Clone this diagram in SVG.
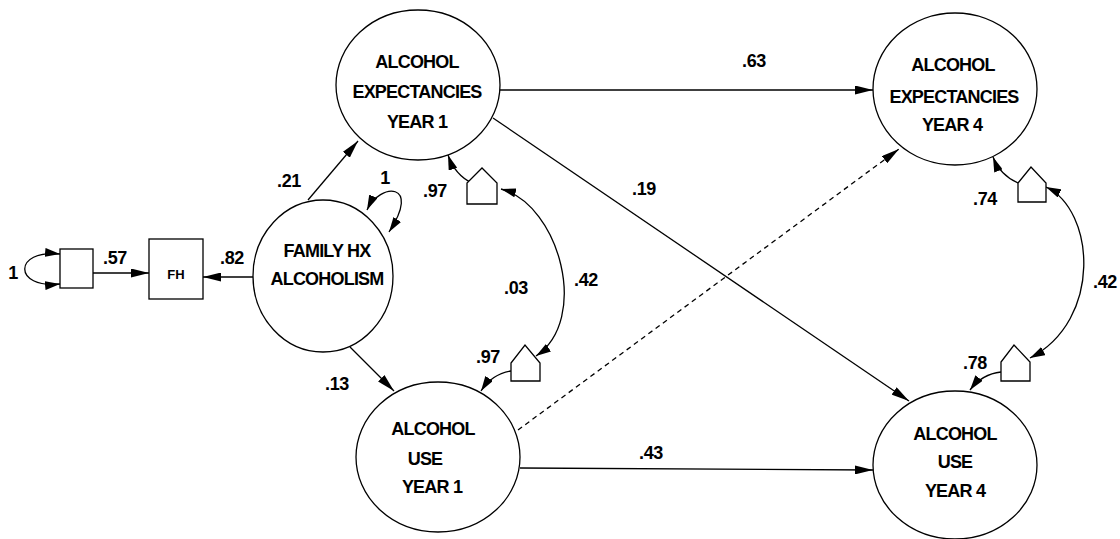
<svg xmlns="http://www.w3.org/2000/svg" width="1120" height="539" viewBox="0 0 1120 539">
<style>
.node{fill:#fff;stroke:#000;stroke-width:1.3}
.t{font-family:"Liberation Sans",Arial,sans-serif;font-weight:bold;font-size:18px;letter-spacing:-0.8px;text-anchor:middle;fill:#000}
.lab{font-family:"Liberation Sans",Arial,sans-serif;font-weight:bold;font-size:18px;letter-spacing:-0.3px;text-anchor:middle;fill:#000}
.e{fill:none;stroke:#000;stroke-width:1.3}
.a{marker-end:url(#ah)}
.c{marker-end:url(#ah2)}
.d{marker-start:url(#ah2);marker-end:url(#ah2)}
.dash{stroke-dasharray:5,4}
</style>
<defs>
<marker id="ah" viewBox="0 0 18 9" refX="18" refY="4.5" markerWidth="18" markerHeight="9" markerUnits="userSpaceOnUse" orient="auto"><path d="M0,0 L18,4.5 L0,9 z" fill="#000"/></marker>
<marker id="ah2" viewBox="0 0 15 9" refX="15" refY="4.5" markerWidth="15" markerHeight="9" markerUnits="userSpaceOnUse" orient="auto-start-reverse"><path d="M0,0 L15,4.5 L0,9 z" fill="#000"/></marker>
</defs>
<rect width="1120" height="539" fill="#fff"/>
<g id="connectors">
<path class="e d" d="M60,254 C13,249 13,289 60,284"/>
<line class="e a" x1="93" y1="273" x2="149" y2="273"/>
<line class="e a" x1="253" y1="277" x2="203" y2="277"/>
<path class="e d" d="M367,210 C380,182 422,182 389,232"/>
<line class="e a" x1="308" y1="200" x2="358" y2="141"/>
<line class="e a" x1="350" y1="347" x2="394" y2="391"/>
<line class="e a" x1="500" y1="90" x2="873" y2="90"/>
<line class="e a" x1="493" y1="118" x2="909" y2="401"/>
<line class="e dash a" x1="518" y1="430" x2="899" y2="149"/>
<line class="e a" x1="520" y1="468" x2="873" y2="470"/>
<path class="e c" d="M472,183 Q455,175 448,155"/>
<path class="e c" d="M511,371 Q492,374 481,391"/>
<path class="e c" d="M1018,183 Q1000,175 993,157"/>
<path class="e c" d="M1001,372 Q982,374 970,390"/>
<path class="e d" d="M501,189 C560,205 590,320 536,356"/>
<path class="e d" d="M1046,187 C1095,210 1103,320 1030,358"/>
</g>
<g id="err0"><rect class="node" x="60" y="249" width="33" height="39"/></g>
<g id="fh"><rect class="node" x="149" y="239" width="54" height="60"/><text class="t" x="176" y="279" style="font-size:13px;letter-spacing:0">FH</text></g>
<g id="famhx"><ellipse class="node" cx="323" cy="276" rx="70" ry="76"/><text class="t" x="327" y="257">FAMILY HX</text><text class="t" x="327" y="285">ALCOHOLISM</text></g>
<g id="ae1"><ellipse class="node" cx="418" cy="85" rx="82" ry="75"/><text class="t" x="417" y="68">ALCOHOL</text><text class="t" x="417" y="98">EXPECTANCIES</text><text class="t" x="417" y="128">YEAR 1</text></g>
<g id="au1"><ellipse class="node" cx="438" cy="457" rx="82" ry="75"/><text class="t" x="433" y="435">ALCOHOL</text><text class="t" x="425" y="465">USE</text><text class="t" x="432" y="493">YEAR 1</text></g>
<g id="ae4"><ellipse class="node" cx="955" cy="89" rx="82" ry="76"/><text class="t" x="953" y="71">ALCOHOL</text><text class="t" x="954" y="103">EXPECTANCIES</text><text class="t" x="952" y="131">YEAR 4</text></g>
<g id="au4"><ellipse class="node" cx="955" cy="465" rx="82" ry="74"/><text class="t" x="955" y="440">ALCOHOL</text><text class="t" x="955" y="468">USE</text><text class="t" x="955" y="497">YEAR 4</text></g>
<g id="d1"><path class="node" d="M467,204 L467,183 L482,168 L497,183 L497,204 Z"/></g>
<g id="d2"><path class="node" d="M511,381 L511,363 L525,345 L540,363 L540,381 Z"/></g>
<g id="d3"><path class="node" d="M1018,202 L1018,183 L1031,167 L1046,183 L1046,202 Z"/></g>
<g id="d4"><path class="node" d="M1001,381 L1001,362 L1014,345 L1030,362 L1030,381 Z"/></g>
<g id="labels">
<text class="lab" x="13" y="279">1</text>
<text class="lab" x="115" y="264">.57</text>
<text class="lab" x="232" y="264">.82</text>
<text class="lab" x="289" y="187">.21</text>
<text class="lab" x="385" y="184">1</text>
<text class="lab" x="435" y="197">.97</text>
<text class="lab" x="337" y="390">.13</text>
<text class="lab" x="488" y="363">.97</text>
<text class="lab" x="586" y="286">.42</text>
<text class="lab" x="644" y="195">.19</text>
<text class="lab" x="754" y="67">.63</text>
<text class="lab" x="516" y="294">.03</text>
<text class="lab" x="651" y="459">.43</text>
<text class="lab" x="985" y="205">.74</text>
<text class="lab" x="1105" y="288">.42</text>
<text class="lab" x="975" y="369">.78</text>
</g>
</svg>
